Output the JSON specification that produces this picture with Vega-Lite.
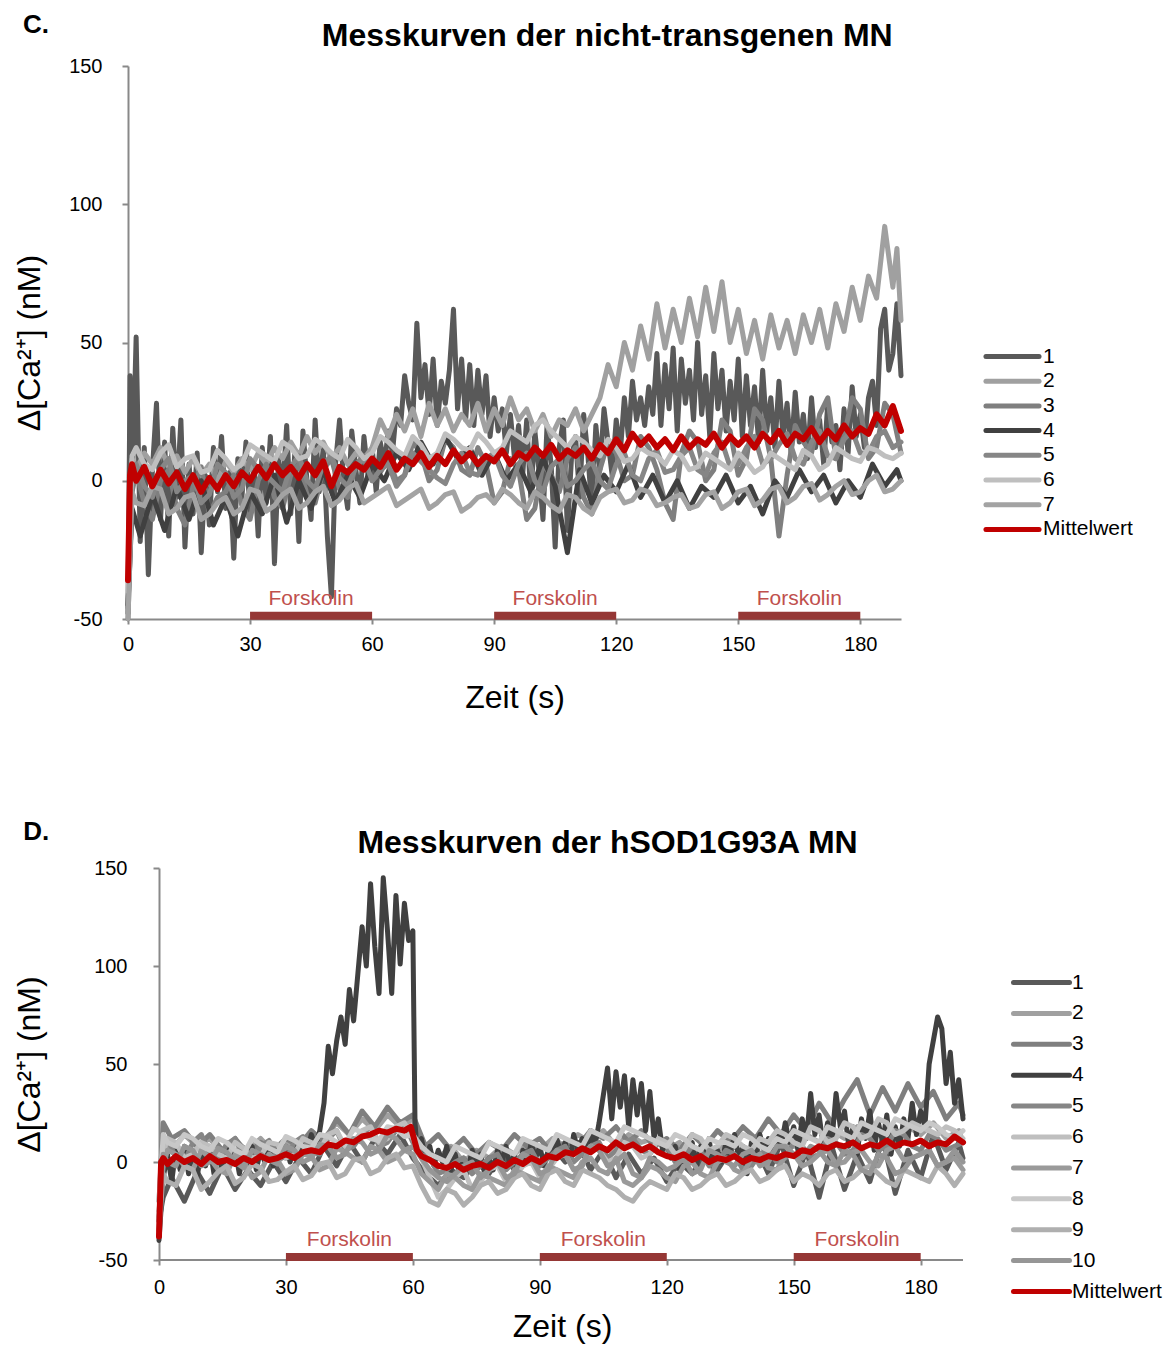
{
"$schema": "https://vega.github.io/schema/vega-lite/v6.json",
"background": "white",
"padding": {"left": 13, "top": 11, "right": 5, "bottom": 5},
"spacing": 105,
"config": {
  "view": {"stroke": null},
  "font": "Liberation Sans",
  "axis": {"grid": false, "domainColor": "#898989", "domainWidth": 2, "tickColor": "#898989", "tickWidth": 2, "labelFont": "Liberation Sans", "labelFontSize": 20, "labelColor": "#000000", "titleFont": "Liberation Sans", "titleFontSize": 32, "titleFontWeight": "normal", "titleColor": "#000000", "labelFlush": false, "labelExpr": "'' + datum.value"},
  "legend": {"labelFont": "Liberation Sans", "labelFontSize": 21, "labelColor": "#000000", "symbolType": "M-4,0H4", "symbolStrokeWidth": 5, "symbolOpacity": 1, "padding": 0, "title": null}
},
"resolve": {"scale": {"color": "independent"}},
"datasets": {
"forsk": [{"a": 30, "b": 60, "m": 45, "lab": "Forskolin"}, {"a": 90, "b": 120, "m": 105, "lab": "Forskolin"}, {"a": 150, "b": 180, "m": 165, "lab": "Forskolin"}],
"c": [
{"s":"1","t":0,"v":-48},{"s":"1","t":0.5,"v":38},{"s":"1","t":1,"v":-5},{"s":"1","t":2,"v":52},{"s":"1","t":3,"v":-22},{"s":"1","t":4,"v":12},{"s":"1","t":5,"v":-34},{"s":"1","t":6,"v":4},{"s":"1","t":7,"v":28},{"s":"1","t":8,"v":-14},{"s":"1","t":9,"v":14},{"s":"1","t":10,"v":-20},{"s":"1","t":11,"v":19},{"s":"1","t":12,"v":-6},{"s":"1","t":13,"v":22},{"s":"1","t":14,"v":-24},{"s":"1","t":15,"v":6},{"s":"1","t":16,"v":-12},{"s":"1","t":17,"v":10},{"s":"1","t":18,"v":-26},{"s":"1","t":19,"v":2},{"s":"1","t":20,"v":-16},{"s":"1","t":21,"v":12},{"s":"1","t":22,"v":-4},{"s":"1","t":23,"v":16},{"s":"1","t":24,"v":-10},{"s":"1","t":25,"v":3},{"s":"1","t":26,"v":-28},{"s":"1","t":27,"v":8},{"s":"1","t":28,"v":-6},{"s":"1","t":29,"v":14},{"s":"1","t":30,"v":-12},{"s":"1","t":31,"v":6},{"s":"1","t":32,"v":-20},{"s":"1","t":33,"v":12},{"s":"1","t":34,"v":-8},{"s":"1","t":35,"v":16},{"s":"1","t":36,"v":-30},{"s":"1","t":37,"v":8},{"s":"1","t":38,"v":-4},{"s":"1","t":39,"v":20},{"s":"1","t":40,"v":-12},{"s":"1","t":41,"v":10},{"s":"1","t":42,"v":-22},{"s":"1","t":43,"v":18},{"s":"1","t":44,"v":0},{"s":"1","t":45,"v":-14},{"s":"1","t":46,"v":22},{"s":"1","t":47,"v":-4},{"s":"1","t":48,"v":12},{"s":"1","t":49,"v":-20},{"s":"1","t":50,"v":-42},{"s":"1","t":51,"v":6},{"s":"1","t":52,"v":22},{"s":"1","t":53,"v":0},{"s":"1","t":54,"v":-10},{"s":"1","t":55,"v":18},{"s":"1","t":56,"v":4},{"s":"1","t":57,"v":-8},{"s":"1","t":58,"v":16},{"s":"1","t":59,"v":2},{"s":"1","t":60,"v":12},{"s":"1","t":61,"v":-4},{"s":"1","t":62,"v":14},{"s":"1","t":63,"v":6},{"s":"1","t":64,"v":18},{"s":"1","t":65,"v":10},{"s":"1","t":66,"v":26},{"s":"1","t":67,"v":20},{"s":"1","t":68,"v":38},{"s":"1","t":69,"v":28},{"s":"1","t":70,"v":22},{"s":"1","t":71,"v":57},{"s":"1","t":72,"v":30},{"s":"1","t":73,"v":42},{"s":"1","t":74,"v":24},{"s":"1","t":75,"v":44},{"s":"1","t":76,"v":20},{"s":"1","t":77,"v":36},{"s":"1","t":78,"v":28},{"s":"1","t":79,"v":40},{"s":"1","t":80,"v":62},{"s":"1","t":81,"v":26},{"s":"1","t":82,"v":44},{"s":"1","t":83,"v":22},{"s":"1","t":84,"v":42},{"s":"1","t":85,"v":20},{"s":"1","t":86,"v":40},{"s":"1","t":87,"v":24},{"s":"1","t":88,"v":38},{"s":"1","t":89,"v":16},{"s":"1","t":90,"v":30},{"s":"1","t":91,"v":18},{"s":"1","t":92,"v":26},{"s":"1","t":93,"v":10},{"s":"1","t":94,"v":24},{"s":"1","t":95,"v":8},{"s":"1","t":96,"v":20},{"s":"1","t":97,"v":2},{"s":"1","t":98,"v":22},{"s":"1","t":99,"v":-6},{"s":"1","t":100,"v":18},{"s":"1","t":101,"v":4},{"s":"1","t":102,"v":-14},{"s":"1","t":103,"v":20},{"s":"1","t":104,"v":6},{"s":"1","t":105,"v":-24},{"s":"1","t":106,"v":12},{"s":"1","t":107,"v":22},{"s":"1","t":108,"v":-18},{"s":"1","t":109,"v":8},{"s":"1","t":110,"v":16},{"s":"1","t":111,"v":-6},{"s":"1","t":112,"v":24},{"s":"1","t":113,"v":10},{"s":"1","t":114,"v":-10},{"s":"1","t":115,"v":20},{"s":"1","t":116,"v":4},{"s":"1","t":117,"v":26},{"s":"1","t":118,"v":14},{"s":"1","t":119,"v":2},{"s":"1","t":120,"v":22},{"s":"1","t":121,"v":10},{"s":"1","t":122,"v":30},{"s":"1","t":123,"v":16},{"s":"1","t":124,"v":36},{"s":"1","t":125,"v":22},{"s":"1","t":126,"v":30},{"s":"1","t":127,"v":20},{"s":"1","t":128,"v":34},{"s":"1","t":129,"v":24},{"s":"1","t":130,"v":46},{"s":"1","t":131,"v":20},{"s":"1","t":132,"v":42},{"s":"1","t":133,"v":26},{"s":"1","t":134,"v":48},{"s":"1","t":135,"v":18},{"s":"1","t":136,"v":44},{"s":"1","t":137,"v":28},{"s":"1","t":138,"v":40},{"s":"1","t":139,"v":22},{"s":"1","t":140,"v":50},{"s":"1","t":141,"v":24},{"s":"1","t":142,"v":38},{"s":"1","t":143,"v":16},{"s":"1","t":144,"v":46},{"s":"1","t":145,"v":26},{"s":"1","t":146,"v":40},{"s":"1","t":147,"v":18},{"s":"1","t":148,"v":36},{"s":"1","t":149,"v":22},{"s":"1","t":150,"v":44},{"s":"1","t":151,"v":16},{"s":"1","t":152,"v":38},{"s":"1","t":153,"v":20},{"s":"1","t":154,"v":34},{"s":"1","t":155,"v":14},{"s":"1","t":156,"v":40},{"s":"1","t":157,"v":18},{"s":"1","t":158,"v":30},{"s":"1","t":159,"v":12},{"s":"1","t":160,"v":36},{"s":"1","t":161,"v":16},{"s":"1","t":162,"v":28},{"s":"1","t":163,"v":10},{"s":"1","t":164,"v":32},{"s":"1","t":165,"v":14},{"s":"1","t":166,"v":24},{"s":"1","t":167,"v":8},{"s":"1","t":168,"v":30},{"s":"1","t":169,"v":12},{"s":"1","t":170,"v":22},{"s":"1","t":171,"v":6},{"s":"1","t":172,"v":28},{"s":"1","t":173,"v":14},{"s":"1","t":174,"v":20},{"s":"1","t":175,"v":4},{"s":"1","t":176,"v":26},{"s":"1","t":177,"v":10},{"s":"1","t":178,"v":34},{"s":"1","t":179,"v":16},{"s":"1","t":180,"v":24},{"s":"1","t":181,"v":12},{"s":"1","t":182,"v":30},{"s":"1","t":183,"v":36},{"s":"1","t":184,"v":20},{"s":"1","t":185,"v":55},{"s":"1","t":186,"v":62},{"s":"1","t":187,"v":40},{"s":"1","t":188,"v":46},{"s":"1","t":189,"v":64},{"s":"1","t":190,"v":38},
{"s":"2","t":0,"v":-45},{"s":"2","t":1,"v":8},{"s":"2","t":2,"v":4},{"s":"2","t":4,"v":10},{"s":"2","t":6,"v":6},{"s":"2","t":8,"v":12},{"s":"2","t":10,"v":5},{"s":"2","t":12,"v":9},{"s":"2","t":14,"v":3},{"s":"2","t":16,"v":8},{"s":"2","t":18,"v":2},{"s":"2","t":20,"v":6},{"s":"2","t":22,"v":0},{"s":"2","t":24,"v":7},{"s":"2","t":26,"v":3},{"s":"2","t":28,"v":8},{"s":"2","t":30,"v":4},{"s":"2","t":32,"v":10},{"s":"2","t":34,"v":6},{"s":"2","t":36,"v":12},{"s":"2","t":38,"v":8},{"s":"2","t":40,"v":14},{"s":"2","t":42,"v":9},{"s":"2","t":44,"v":16},{"s":"2","t":46,"v":10},{"s":"2","t":48,"v":14},{"s":"2","t":50,"v":8},{"s":"2","t":52,"v":12},{"s":"2","t":54,"v":6},{"s":"2","t":56,"v":10},{"s":"2","t":58,"v":8},{"s":"2","t":60,"v":12},{"s":"2","t":62,"v":22},{"s":"2","t":64,"v":16},{"s":"2","t":66,"v":24},{"s":"2","t":68,"v":18},{"s":"2","t":70,"v":26},{"s":"2","t":72,"v":16},{"s":"2","t":74,"v":28},{"s":"2","t":76,"v":20},{"s":"2","t":78,"v":26},{"s":"2","t":80,"v":18},{"s":"2","t":82,"v":24},{"s":"2","t":84,"v":20},{"s":"2","t":86,"v":28},{"s":"2","t":88,"v":18},{"s":"2","t":90,"v":26},{"s":"2","t":92,"v":20},{"s":"2","t":94,"v":30},{"s":"2","t":96,"v":22},{"s":"2","t":98,"v":26},{"s":"2","t":100,"v":18},{"s":"2","t":102,"v":24},{"s":"2","t":104,"v":16},{"s":"2","t":106,"v":22},{"s":"2","t":108,"v":20},{"s":"2","t":110,"v":26},{"s":"2","t":112,"v":18},{"s":"2","t":114,"v":24},{"s":"2","t":116,"v":30},{"s":"2","t":118,"v":42},{"s":"2","t":120,"v":34},{"s":"2","t":122,"v":50},{"s":"2","t":124,"v":40},{"s":"2","t":126,"v":56},{"s":"2","t":128,"v":44},{"s":"2","t":130,"v":64},{"s":"2","t":132,"v":48},{"s":"2","t":134,"v":62},{"s":"2","t":136,"v":50},{"s":"2","t":138,"v":66},{"s":"2","t":140,"v":52},{"s":"2","t":142,"v":70},{"s":"2","t":144,"v":54},{"s":"2","t":146,"v":72},{"s":"2","t":148,"v":50},{"s":"2","t":150,"v":62},{"s":"2","t":152,"v":46},{"s":"2","t":154,"v":58},{"s":"2","t":156,"v":44},{"s":"2","t":158,"v":60},{"s":"2","t":160,"v":48},{"s":"2","t":162,"v":58},{"s":"2","t":164,"v":46},{"s":"2","t":166,"v":60},{"s":"2","t":168,"v":50},{"s":"2","t":170,"v":62},{"s":"2","t":172,"v":48},{"s":"2","t":174,"v":64},{"s":"2","t":176,"v":54},{"s":"2","t":178,"v":70},{"s":"2","t":180,"v":58},{"s":"2","t":182,"v":74},{"s":"2","t":184,"v":66},{"s":"2","t":186,"v":92},{"s":"2","t":188,"v":70},{"s":"2","t":189,"v":84},{"s":"2","t":190,"v":58},
{"s":"3","t":0,"v":-50},{"s":"3","t":1,"v":-4},{"s":"3","t":4,"v":-8},{"s":"3","t":8,"v":0},{"s":"3","t":12,"v":-10},{"s":"3","t":16,"v":-2},{"s":"3","t":20,"v":-12},{"s":"3","t":24,"v":-4},{"s":"3","t":28,"v":-9},{"s":"3","t":32,"v":0},{"s":"3","t":36,"v":-6},{"s":"3","t":40,"v":2},{"s":"3","t":44,"v":-5},{"s":"3","t":48,"v":4},{"s":"3","t":52,"v":-3},{"s":"3","t":56,"v":6},{"s":"3","t":60,"v":0},{"s":"3","t":64,"v":8},{"s":"3","t":68,"v":2},{"s":"3","t":72,"v":10},{"s":"3","t":76,"v":4},{"s":"3","t":80,"v":12},{"s":"3","t":84,"v":2},{"s":"3","t":88,"v":6},{"s":"3","t":92,"v":-4},{"s":"3","t":96,"v":4},{"s":"3","t":100,"v":-10},{"s":"3","t":104,"v":2},{"s":"3","t":108,"v":8},{"s":"3","t":112,"v":-6},{"s":"3","t":116,"v":4},{"s":"3","t":120,"v":10},{"s":"3","t":124,"v":2},{"s":"3","t":128,"v":12},{"s":"3","t":132,"v":-8},{"s":"3","t":136,"v":10},{"s":"3","t":140,"v":14},{"s":"3","t":144,"v":4},{"s":"3","t":148,"v":18},{"s":"3","t":152,"v":8},{"s":"3","t":156,"v":22},{"s":"3","t":160,"v":-20},{"s":"3","t":164,"v":20},{"s":"3","t":168,"v":10},{"s":"3","t":172,"v":30},{"s":"3","t":176,"v":16},{"s":"3","t":180,"v":26},{"s":"3","t":184,"v":12},{"s":"3","t":188,"v":24},{"s":"3","t":190,"v":10},
{"s":"4","t":0,"v":-45},{"s":"4","t":1,"v":-10},{"s":"4","t":3,"v":-20},{"s":"4","t":6,"v":-5},{"s":"4","t":9,"v":-18},{"s":"4","t":12,"v":-2},{"s":"4","t":15,"v":-14},{"s":"4","t":18,"v":0},{"s":"4","t":21,"v":-16},{"s":"4","t":24,"v":-6},{"s":"4","t":27,"v":-20},{"s":"4","t":30,"v":-4},{"s":"4","t":33,"v":-12},{"s":"4","t":36,"v":2},{"s":"4","t":39,"v":-15},{"s":"4","t":42,"v":0},{"s":"4","t":45,"v":-10},{"s":"4","t":48,"v":4},{"s":"4","t":51,"v":-8},{"s":"4","t":54,"v":2},{"s":"4","t":57,"v":-6},{"s":"4","t":60,"v":6},{"s":"4","t":63,"v":0},{"s":"4","t":66,"v":10},{"s":"4","t":69,"v":4},{"s":"4","t":72,"v":14},{"s":"4","t":75,"v":6},{"s":"4","t":78,"v":16},{"s":"4","t":81,"v":8},{"s":"4","t":84,"v":12},{"s":"4","t":87,"v":2},{"s":"4","t":90,"v":10},{"s":"4","t":93,"v":0},{"s":"4","t":96,"v":6},{"s":"4","t":99,"v":-4},{"s":"4","t":102,"v":8},{"s":"4","t":105,"v":-2},{"s":"4","t":108,"v":-26},{"s":"4","t":111,"v":4},{"s":"4","t":114,"v":-8},{"s":"4","t":117,"v":2},{"s":"4","t":120,"v":-4},{"s":"4","t":123,"v":6},{"s":"4","t":126,"v":-6},{"s":"4","t":129,"v":2},{"s":"4","t":132,"v":-8},{"s":"4","t":135,"v":0},{"s":"4","t":138,"v":-10},{"s":"4","t":141,"v":-2},{"s":"4","t":144,"v":-6},{"s":"4","t":147,"v":2},{"s":"4","t":150,"v":-8},{"s":"4","t":153,"v":-2},{"s":"4","t":156,"v":-12},{"s":"4","t":159,"v":0},{"s":"4","t":162,"v":-6},{"s":"4","t":165,"v":4},{"s":"4","t":168,"v":-4},{"s":"4","t":171,"v":2},{"s":"4","t":174,"v":-8},{"s":"4","t":177,"v":0},{"s":"4","t":180,"v":-6},{"s":"4","t":183,"v":6},{"s":"4","t":186,"v":-2},{"s":"4","t":189,"v":4},{"s":"4","t":190,"v":0},
{"s":"5","t":0,"v":-46},{"s":"5","t":1,"v":2},{"s":"5","t":4,"v":-2},{"s":"5","t":8,"v":4},{"s":"5","t":12,"v":-4},{"s":"5","t":16,"v":2},{"s":"5","t":20,"v":-5},{"s":"5","t":24,"v":3},{"s":"5","t":28,"v":-3},{"s":"5","t":32,"v":4},{"s":"5","t":36,"v":-1},{"s":"5","t":40,"v":5},{"s":"5","t":44,"v":0},{"s":"5","t":48,"v":6},{"s":"5","t":52,"v":1},{"s":"5","t":56,"v":5},{"s":"5","t":60,"v":0},{"s":"5","t":64,"v":6},{"s":"5","t":68,"v":2},{"s":"5","t":72,"v":7},{"s":"5","t":76,"v":1},{"s":"5","t":80,"v":6},{"s":"5","t":84,"v":3},{"s":"5","t":88,"v":8},{"s":"5","t":92,"v":2},{"s":"5","t":96,"v":6},{"s":"5","t":100,"v":0},{"s":"5","t":104,"v":5},{"s":"5","t":108,"v":-2},{"s":"5","t":112,"v":4},{"s":"5","t":116,"v":0},{"s":"5","t":120,"v":6},{"s":"5","t":124,"v":2},{"s":"5","t":128,"v":8},{"s":"5","t":132,"v":3},{"s":"5","t":136,"v":9},{"s":"5","t":140,"v":4},{"s":"5","t":144,"v":10},{"s":"5","t":148,"v":5},{"s":"5","t":152,"v":12},{"s":"5","t":156,"v":6},{"s":"5","t":160,"v":13},{"s":"5","t":164,"v":8},{"s":"5","t":168,"v":14},{"s":"5","t":172,"v":9},{"s":"5","t":176,"v":15},{"s":"5","t":180,"v":10},{"s":"5","t":184,"v":16},{"s":"5","t":188,"v":12},{"s":"5","t":190,"v":14},
{"s":"6","t":0,"v":-40},{"s":"6","t":1,"v":9},{"s":"6","t":4,"v":6},{"s":"6","t":8,"v":10},{"s":"6","t":12,"v":5},{"s":"6","t":16,"v":9},{"s":"6","t":20,"v":4},{"s":"6","t":24,"v":8},{"s":"6","t":28,"v":6},{"s":"6","t":32,"v":11},{"s":"6","t":36,"v":7},{"s":"6","t":40,"v":12},{"s":"6","t":44,"v":9},{"s":"6","t":48,"v":13},{"s":"6","t":52,"v":8},{"s":"6","t":56,"v":12},{"s":"6","t":60,"v":10},{"s":"6","t":64,"v":14},{"s":"6","t":68,"v":9},{"s":"6","t":72,"v":13},{"s":"6","t":76,"v":10},{"s":"6","t":80,"v":15},{"s":"6","t":84,"v":11},{"s":"6","t":88,"v":14},{"s":"6","t":92,"v":12},{"s":"6","t":96,"v":16},{"s":"6","t":100,"v":20},{"s":"6","t":104,"v":18},{"s":"6","t":108,"v":12},{"s":"6","t":112,"v":14},{"s":"6","t":116,"v":9},{"s":"6","t":120,"v":12},{"s":"6","t":124,"v":8},{"s":"6","t":128,"v":10},{"s":"6","t":132,"v":6},{"s":"6","t":136,"v":9},{"s":"6","t":140,"v":5},{"s":"6","t":144,"v":8},{"s":"6","t":148,"v":4},{"s":"6","t":152,"v":7},{"s":"6","t":156,"v":5},{"s":"6","t":160,"v":8},{"s":"6","t":164,"v":4},{"s":"6","t":168,"v":9},{"s":"6","t":172,"v":6},{"s":"6","t":176,"v":10},{"s":"6","t":180,"v":7},{"s":"6","t":184,"v":11},{"s":"6","t":188,"v":8},{"s":"6","t":190,"v":10},
{"s":"7","t":0,"v":-50},{"s":"7","t":1,"v":-4},{"s":"7","t":4,"v":-9},{"s":"7","t":8,"v":-3},{"s":"7","t":12,"v":-10},{"s":"7","t":16,"v":-5},{"s":"7","t":20,"v":-12},{"s":"7","t":24,"v":-6},{"s":"7","t":28,"v":-10},{"s":"7","t":32,"v":-4},{"s":"7","t":36,"v":-9},{"s":"7","t":40,"v":-3},{"s":"7","t":44,"v":-8},{"s":"7","t":48,"v":-2},{"s":"7","t":52,"v":-7},{"s":"7","t":56,"v":-1},{"s":"7","t":60,"v":-6},{"s":"7","t":64,"v":-2},{"s":"7","t":68,"v":-7},{"s":"7","t":72,"v":-3},{"s":"7","t":76,"v":-8},{"s":"7","t":80,"v":-4},{"s":"7","t":84,"v":-9},{"s":"7","t":88,"v":-5},{"s":"7","t":92,"v":-3},{"s":"7","t":96,"v":-8},{"s":"7","t":100,"v":-4},{"s":"7","t":104,"v":-9},{"s":"7","t":108,"v":-5},{"s":"7","t":112,"v":-10},{"s":"7","t":116,"v":-6},{"s":"7","t":120,"v":-3},{"s":"7","t":124,"v":-7},{"s":"7","t":128,"v":-4},{"s":"7","t":132,"v":-8},{"s":"7","t":136,"v":-5},{"s":"7","t":140,"v":-9},{"s":"7","t":144,"v":-4},{"s":"7","t":148,"v":-8},{"s":"7","t":152,"v":-3},{"s":"7","t":156,"v":-7},{"s":"7","t":160,"v":-2},{"s":"7","t":164,"v":-6},{"s":"7","t":168,"v":-1},{"s":"7","t":172,"v":-5},{"s":"7","t":176,"v":0},{"s":"7","t":180,"v":-4},{"s":"7","t":184,"v":2},{"s":"7","t":188,"v":-3},{"s":"7","t":190,"v":0},
{"s":"3","t":2,"v":3},{"s":"3","t":6,"v":-14},{"s":"3","t":10,"v":4},{"s":"3","t":14,"v":-16},{"s":"3","t":18,"v":5},{"s":"3","t":22,"v":-6},{"s":"3","t":26,"v":2},{"s":"3","t":30,"v":-14},{"s":"3","t":34,"v":6},{"s":"3","t":38,"v":-10},{"s":"3","t":42,"v":6},{"s":"3","t":46,"v":-8},{"s":"3","t":50,"v":8},{"s":"3","t":54,"v":-6},{"s":"3","t":58,"v":9},{"s":"3","t":62,"v":3},{"s":"3","t":66,"v":0},{"s":"3","t":70,"v":14},{"s":"3","t":74,"v":0},{"s":"3","t":78,"v":15},{"s":"3","t":82,"v":4},{"s":"3","t":86,"v":12},{"s":"3","t":90,"v":-8},{"s":"3","t":94,"v":8},{"s":"3","t":98,"v":-14},{"s":"3","t":102,"v":6},{"s":"3","t":106,"v":-4},{"s":"3","t":110,"v":12},{"s":"3","t":114,"v":-12},{"s":"3","t":118,"v":14},{"s":"3","t":122,"v":0},{"s":"3","t":126,"v":16},{"s":"3","t":130,"v":4},{"s":"3","t":134,"v":-14},{"s":"3","t":138,"v":18},{"s":"3","t":142,"v":0},{"s":"3","t":146,"v":22},{"s":"3","t":150,"v":2},{"s":"3","t":154,"v":26},{"s":"3","t":158,"v":8},{"s":"3","t":162,"v":2},{"s":"3","t":166,"v":14},{"s":"3","t":170,"v":24},{"s":"3","t":174,"v":8},{"s":"3","t":178,"v":30},{"s":"3","t":182,"v":8},{"s":"3","t":186,"v":28},
{"s":"5","t":2,"v":6},{"s":"5","t":6,"v":-6},{"s":"5","t":10,"v":8},{"s":"5","t":14,"v":0},{"s":"5","t":18,"v":-8},{"s":"5","t":22,"v":6},{"s":"5","t":26,"v":-6},{"s":"5","t":30,"v":8},{"s":"5","t":34,"v":2},{"s":"5","t":38,"v":-4},{"s":"5","t":42,"v":9},{"s":"5","t":46,"v":-3},{"s":"5","t":50,"v":9},{"s":"5","t":54,"v":-2},{"s":"5","t":58,"v":8},{"s":"5","t":62,"v":4},{"s":"5","t":66,"v":-2},{"s":"5","t":70,"v":10},{"s":"5","t":74,"v":4},{"s":"5","t":78,"v":-1},{"s":"5","t":82,"v":10},{"s":"5","t":86,"v":2},{"s":"5","t":90,"v":10},{"s":"5","t":94,"v":-2},{"s":"5","t":98,"v":10},{"s":"5","t":102,"v":-4},{"s":"5","t":106,"v":8},{"s":"5","t":110,"v":0},{"s":"5","t":114,"v":7},{"s":"5","t":118,"v":-3},{"s":"5","t":122,"v":10},{"s":"5","t":126,"v":0},{"s":"5","t":130,"v":11},{"s":"5","t":134,"v":4},{"s":"5","t":138,"v":12},{"s":"5","t":142,"v":2},{"s":"5","t":146,"v":14},{"s":"5","t":150,"v":6},{"s":"5","t":154,"v":16},{"s":"5","t":158,"v":8},{"s":"5","t":162,"v":17},{"s":"5","t":166,"v":6},{"s":"5","t":170,"v":18},{"s":"5","t":174,"v":8},{"s":"5","t":178,"v":18},{"s":"5","t":182,"v":10},{"s":"5","t":186,"v":18},
{"s":"6","t":2,"v":12},{"s":"6","t":6,"v":4},{"s":"6","t":10,"v":13},{"s":"6","t":14,"v":8},{"s":"6","t":18,"v":3},{"s":"6","t":22,"v":11},{"s":"6","t":26,"v":4},{"s":"6","t":30,"v":13},{"s":"6","t":34,"v":9},{"s":"6","t":38,"v":14},{"s":"6","t":42,"v":8},{"s":"6","t":46,"v":15},{"s":"6","t":50,"v":10},{"s":"6","t":54,"v":15},{"s":"6","t":58,"v":8},{"s":"6","t":62,"v":16},{"s":"6","t":66,"v":11},{"s":"6","t":70,"v":16},{"s":"6","t":74,"v":8},{"s":"6","t":78,"v":17},{"s":"6","t":82,"v":12},{"s":"6","t":86,"v":17},{"s":"6","t":90,"v":10},{"s":"6","t":94,"v":18},{"s":"6","t":98,"v":14},{"s":"6","t":102,"v":22},{"s":"6","t":106,"v":15},{"s":"6","t":110,"v":16},{"s":"6","t":114,"v":11},{"s":"6","t":118,"v":15},{"s":"6","t":122,"v":7},{"s":"6","t":126,"v":12},{"s":"6","t":130,"v":9},{"s":"6","t":134,"v":11},{"s":"6","t":138,"v":4},{"s":"6","t":142,"v":10},{"s":"6","t":146,"v":6},{"s":"6","t":150,"v":10},{"s":"6","t":154,"v":3},{"s":"6","t":158,"v":10},{"s":"6","t":162,"v":6},{"s":"6","t":166,"v":11},{"s":"6","t":170,"v":4},{"s":"6","t":174,"v":12},{"s":"6","t":178,"v":8},{"s":"6","t":182,"v":12},{"s":"6","t":186,"v":9},
{"s":"7","t":2,"v":-8},{"s":"7","t":6,"v":-2},{"s":"7","t":10,"v":-12},{"s":"7","t":14,"v":-6},{"s":"7","t":18,"v":-14},{"s":"7","t":22,"v":-8},{"s":"7","t":26,"v":-12},{"s":"7","t":30,"v":-3},{"s":"7","t":34,"v":-11},{"s":"7","t":38,"v":-5},{"s":"7","t":42,"v":-10},{"s":"7","t":46,"v":-4},{"s":"7","t":50,"v":-9},{"s":"7","t":54,"v":-3},{"s":"7","t":58,"v":-8},{"s":"7","t":62,"v":-4},{"s":"7","t":66,"v":-9},{"s":"7","t":70,"v":-5},{"s":"7","t":74,"v":-10},{"s":"7","t":78,"v":-5},{"s":"7","t":82,"v":-11},{"s":"7","t":86,"v":-6},{"s":"7","t":90,"v":-8},{"s":"7","t":94,"v":-5},{"s":"7","t":98,"v":-10},{"s":"7","t":102,"v":-6},{"s":"7","t":106,"v":-11},{"s":"7","t":110,"v":-6},{"s":"7","t":114,"v":-12},{"s":"7","t":118,"v":-4},{"s":"7","t":122,"v":-8},{"s":"7","t":126,"v":-3},{"s":"7","t":130,"v":-9},{"s":"7","t":134,"v":-6},{"s":"7","t":138,"v":-10},{"s":"7","t":142,"v":-5},{"s":"7","t":146,"v":-10},{"s":"7","t":150,"v":-4},{"s":"7","t":154,"v":-9},{"s":"7","t":158,"v":-3},{"s":"7","t":162,"v":-8},{"s":"7","t":166,"v":-2},{"s":"7","t":170,"v":-7},{"s":"7","t":174,"v":-2},{"s":"7","t":178,"v":-5},{"s":"7","t":182,"v":0},{"s":"7","t":186,"v":-4}
],
"cm": [
{"t":0,"v":-36},{"t":0.5,"v":2},{"t":1,"v":6},{"t":2,"v":0},{"t":4,"v":5},{"t":6,"v":-2},{"t":8,"v":4},{"t":10,"v":-1},{"t":12,"v":3},{"t":14,"v":-3},{"t":16,"v":2},{"t":18,"v":-4},{"t":20,"v":1},{"t":22,"v":-3},{"t":24,"v":2},{"t":26,"v":-2},{"t":28,"v":3},{"t":30,"v":0},{"t":32,"v":5},{"t":34,"v":1},{"t":36,"v":6},{"t":38,"v":2},{"t":40,"v":5},{"t":42,"v":1},{"t":44,"v":6},{"t":46,"v":2},{"t":48,"v":7},{"t":50,"v":-2},{"t":52,"v":5},{"t":54,"v":3},{"t":56,"v":6},{"t":58,"v":4},{"t":60,"v":8},{"t":62,"v":5},{"t":64,"v":10},{"t":66,"v":4},{"t":68,"v":8},{"t":70,"v":6},{"t":72,"v":10},{"t":74,"v":5},{"t":76,"v":9},{"t":78,"v":6},{"t":80,"v":11},{"t":82,"v":7},{"t":84,"v":10},{"t":86,"v":6},{"t":88,"v":9},{"t":90,"v":7},{"t":92,"v":11},{"t":94,"v":6},{"t":96,"v":10},{"t":98,"v":8},{"t":100,"v":12},{"t":102,"v":9},{"t":104,"v":13},{"t":106,"v":8},{"t":108,"v":11},{"t":110,"v":9},{"t":112,"v":12},{"t":114,"v":8},{"t":116,"v":13},{"t":118,"v":10},{"t":120,"v":15},{"t":122,"v":11},{"t":124,"v":17},{"t":126,"v":13},{"t":128,"v":16},{"t":130,"v":12},{"t":132,"v":15},{"t":134,"v":11},{"t":136,"v":16},{"t":138,"v":12},{"t":140,"v":15},{"t":142,"v":13},{"t":144,"v":17},{"t":146,"v":12},{"t":148,"v":16},{"t":150,"v":13},{"t":152,"v":16},{"t":154,"v":12},{"t":156,"v":17},{"t":158,"v":14},{"t":160,"v":18},{"t":162,"v":13},{"t":164,"v":17},{"t":166,"v":15},{"t":168,"v":19},{"t":170,"v":14},{"t":172,"v":18},{"t":174,"v":15},{"t":176,"v":20},{"t":178,"v":16},{"t":180,"v":19},{"t":182,"v":17},{"t":184,"v":24},{"t":186,"v":20},{"t":188,"v":27},{"t":190,"v":18}
],
"d": [
{"s":"1","t":0,"v":-30},{"s":"1","t":1,"v":-18},{"s":"1","t":3,"v":-8},{"s":"1","t":6,"v":-20},{"s":"1","t":9,"v":-5},{"s":"1","t":12,"v":-16},{"s":"1","t":15,"v":-2},{"s":"1","t":18,"v":-14},{"s":"1","t":21,"v":-4},{"s":"1","t":24,"v":-12},{"s":"1","t":27,"v":0},{"s":"1","t":30,"v":-10},{"s":"1","t":33,"v":2},{"s":"1","t":36,"v":-6},{"s":"1","t":39,"v":8},{"s":"1","t":42,"v":-2},{"s":"1","t":45,"v":10},{"s":"1","t":48,"v":0},{"s":"1","t":51,"v":12},{"s":"1","t":54,"v":4},{"s":"1","t":57,"v":14},{"s":"1","t":60,"v":2},{"s":"1","t":63,"v":-6},{"s":"1","t":66,"v":-12},{"s":"1","t":69,"v":-4},{"s":"1","t":72,"v":-8},{"s":"1","t":75,"v":0},{"s":"1","t":78,"v":-6},{"s":"1","t":81,"v":4},{"s":"1","t":84,"v":-4},{"s":"1","t":87,"v":6},{"s":"1","t":90,"v":-2},{"s":"1","t":93,"v":8},{"s":"1","t":96,"v":0},{"s":"1","t":99,"v":10},{"s":"1","t":102,"v":-4},{"s":"1","t":105,"v":6},{"s":"1","t":108,"v":-8},{"s":"1","t":111,"v":4},{"s":"1","t":114,"v":-6},{"s":"1","t":117,"v":2},{"s":"1","t":120,"v":-10},{"s":"1","t":123,"v":0},{"s":"1","t":126,"v":-6},{"s":"1","t":129,"v":4},{"s":"1","t":132,"v":-4},{"s":"1","t":135,"v":6},{"s":"1","t":138,"v":-2},{"s":"1","t":141,"v":8},{"s":"1","t":144,"v":-6},{"s":"1","t":147,"v":10},{"s":"1","t":150,"v":-12},{"s":"1","t":153,"v":6},{"s":"1","t":156,"v":-18},{"s":"1","t":159,"v":8},{"s":"1","t":162,"v":-14},{"s":"1","t":165,"v":4},{"s":"1","t":168,"v":-10},{"s":"1","t":171,"v":12},{"s":"1","t":174,"v":-16},{"s":"1","t":177,"v":6},{"s":"1","t":180,"v":-8},{"s":"1","t":183,"v":14},{"s":"1","t":186,"v":-4},{"s":"1","t":189,"v":10},{"s":"1","t":190,"v":2},
{"s":"2","t":0,"v":-35},{"s":"2","t":1,"v":12},{"s":"2","t":3,"v":6},{"s":"2","t":6,"v":14},{"s":"2","t":9,"v":8},{"s":"2","t":12,"v":12},{"s":"2","t":15,"v":4},{"s":"2","t":18,"v":10},{"s":"2","t":21,"v":6},{"s":"2","t":24,"v":12},{"s":"2","t":27,"v":5},{"s":"2","t":30,"v":10},{"s":"2","t":33,"v":8},{"s":"2","t":36,"v":14},{"s":"2","t":39,"v":12},{"s":"2","t":42,"v":20},{"s":"2","t":45,"v":14},{"s":"2","t":48,"v":22},{"s":"2","t":51,"v":16},{"s":"2","t":54,"v":24},{"s":"2","t":57,"v":18},{"s":"2","t":60,"v":22},{"s":"2","t":63,"v":6},{"s":"2","t":66,"v":2},{"s":"2","t":69,"v":8},{"s":"2","t":72,"v":0},{"s":"2","t":75,"v":6},{"s":"2","t":78,"v":2},{"s":"2","t":81,"v":8},{"s":"2","t":84,"v":4},{"s":"2","t":87,"v":10},{"s":"2","t":90,"v":6},{"s":"2","t":93,"v":12},{"s":"2","t":96,"v":8},{"s":"2","t":99,"v":14},{"s":"2","t":102,"v":10},{"s":"2","t":105,"v":16},{"s":"2","t":108,"v":8},{"s":"2","t":111,"v":14},{"s":"2","t":114,"v":10},{"s":"2","t":117,"v":12},{"s":"2","t":120,"v":6},{"s":"2","t":123,"v":10},{"s":"2","t":126,"v":4},{"s":"2","t":129,"v":8},{"s":"2","t":132,"v":6},{"s":"2","t":135,"v":10},{"s":"2","t":138,"v":4},{"s":"2","t":141,"v":9},{"s":"2","t":144,"v":6},{"s":"2","t":147,"v":12},{"s":"2","t":150,"v":8},{"s":"2","t":153,"v":14},{"s":"2","t":156,"v":10},{"s":"2","t":159,"v":16},{"s":"2","t":162,"v":12},{"s":"2","t":165,"v":18},{"s":"2","t":168,"v":12},{"s":"2","t":171,"v":16},{"s":"2","t":174,"v":10},{"s":"2","t":177,"v":18},{"s":"2","t":180,"v":14},{"s":"2","t":183,"v":20},{"s":"2","t":186,"v":12},{"s":"2","t":189,"v":16},{"s":"2","t":190,"v":10},
{"s":"3","t":0,"v":-20},{"s":"3","t":1,"v":20},{"s":"3","t":3,"v":12},{"s":"3","t":6,"v":16},{"s":"3","t":9,"v":8},{"s":"3","t":12,"v":14},{"s":"3","t":15,"v":6},{"s":"3","t":18,"v":12},{"s":"3","t":21,"v":4},{"s":"3","t":24,"v":10},{"s":"3","t":27,"v":6},{"s":"3","t":30,"v":12},{"s":"3","t":33,"v":8},{"s":"3","t":36,"v":16},{"s":"3","t":39,"v":10},{"s":"3","t":42,"v":22},{"s":"3","t":45,"v":14},{"s":"3","t":48,"v":26},{"s":"3","t":51,"v":18},{"s":"3","t":54,"v":28},{"s":"3","t":57,"v":20},{"s":"3","t":60,"v":24},{"s":"3","t":63,"v":8},{"s":"3","t":66,"v":14},{"s":"3","t":69,"v":6},{"s":"3","t":72,"v":12},{"s":"3","t":75,"v":4},{"s":"3","t":78,"v":10},{"s":"3","t":81,"v":6},{"s":"3","t":84,"v":14},{"s":"3","t":87,"v":8},{"s":"3","t":90,"v":12},{"s":"3","t":93,"v":4},{"s":"3","t":96,"v":10},{"s":"3","t":99,"v":8},{"s":"3","t":102,"v":16},{"s":"3","t":105,"v":12},{"s":"3","t":108,"v":18},{"s":"3","t":111,"v":10},{"s":"3","t":114,"v":16},{"s":"3","t":117,"v":8},{"s":"3","t":120,"v":12},{"s":"3","t":123,"v":6},{"s":"3","t":126,"v":14},{"s":"3","t":129,"v":8},{"s":"3","t":132,"v":16},{"s":"3","t":135,"v":10},{"s":"3","t":138,"v":18},{"s":"3","t":141,"v":12},{"s":"3","t":144,"v":22},{"s":"3","t":147,"v":14},{"s":"3","t":150,"v":24},{"s":"3","t":153,"v":16},{"s":"3","t":156,"v":30},{"s":"3","t":159,"v":20},{"s":"3","t":162,"v":32},{"s":"3","t":165,"v":42},{"s":"3","t":168,"v":24},{"s":"3","t":171,"v":38},{"s":"3","t":174,"v":26},{"s":"3","t":177,"v":40},{"s":"3","t":180,"v":28},{"s":"3","t":183,"v":36},{"s":"3","t":186,"v":22},{"s":"3","t":189,"v":30},{"s":"3","t":190,"v":24},
{"s":"4","t":0,"v":-40},{"s":"4","t":1,"v":-8},{"s":"4","t":2,"v":4},{"s":"4","t":3,"v":-10},{"s":"4","t":4,"v":6},{"s":"4","t":5,"v":-4},{"s":"4","t":6,"v":8},{"s":"4","t":7,"v":-6},{"s":"4","t":8,"v":2},{"s":"4","t":9,"v":-8},{"s":"4","t":10,"v":6},{"s":"4","t":11,"v":-2},{"s":"4","t":12,"v":8},{"s":"4","t":13,"v":-6},{"s":"4","t":14,"v":4},{"s":"4","t":15,"v":-4},{"s":"4","t":16,"v":10},{"s":"4","t":17,"v":0},{"s":"4","t":18,"v":6},{"s":"4","t":19,"v":-6},{"s":"4","t":20,"v":4},{"s":"4","t":21,"v":-2},{"s":"4","t":22,"v":8},{"s":"4","t":23,"v":-4},{"s":"4","t":24,"v":6},{"s":"4","t":25,"v":0},{"s":"4","t":26,"v":10},{"s":"4","t":27,"v":-2},{"s":"4","t":28,"v":6},{"s":"4","t":29,"v":2},{"s":"4","t":30,"v":8},{"s":"4","t":31,"v":0},{"s":"4","t":32,"v":10},{"s":"4","t":33,"v":4},{"s":"4","t":34,"v":12},{"s":"4","t":35,"v":6},{"s":"4","t":36,"v":14},{"s":"4","t":37,"v":8},{"s":"4","t":38,"v":16},{"s":"4","t":39,"v":30},{"s":"4","t":40,"v":59},{"s":"4","t":41,"v":45},{"s":"4","t":42,"v":62},{"s":"4","t":43,"v":74},{"s":"4","t":44,"v":60},{"s":"4","t":45,"v":88},{"s":"4","t":46,"v":72},{"s":"4","t":47,"v":96},{"s":"4","t":48,"v":120},{"s":"4","t":49,"v":100},{"s":"4","t":50,"v":142},{"s":"4","t":51,"v":110},{"s":"4","t":52,"v":86},{"s":"4","t":53,"v":145},{"s":"4","t":54,"v":118},{"s":"4","t":55,"v":86},{"s":"4","t":56,"v":136},{"s":"4","t":57,"v":101},{"s":"4","t":58,"v":132},{"s":"4","t":59,"v":113},{"s":"4","t":60,"v":118},{"s":"4","t":60.5,"v":20},{"s":"4","t":61,"v":6},{"s":"4","t":62,"v":12},{"s":"4","t":63,"v":2},{"s":"4","t":64,"v":8},{"s":"4","t":65,"v":-2},{"s":"4","t":66,"v":6},{"s":"4","t":67,"v":0},{"s":"4","t":68,"v":8},{"s":"4","t":69,"v":-4},{"s":"4","t":70,"v":4},{"s":"4","t":71,"v":-6},{"s":"4","t":72,"v":2},{"s":"4","t":73,"v":-4},{"s":"4","t":74,"v":6},{"s":"4","t":75,"v":-2},{"s":"4","t":76,"v":4},{"s":"4","t":77,"v":-6},{"s":"4","t":78,"v":2},{"s":"4","t":79,"v":-4},{"s":"4","t":80,"v":6},{"s":"4","t":81,"v":0},{"s":"4","t":82,"v":8},{"s":"4","t":83,"v":-2},{"s":"4","t":84,"v":4},{"s":"4","t":85,"v":-6},{"s":"4","t":86,"v":6},{"s":"4","t":87,"v":0},{"s":"4","t":88,"v":10},{"s":"4","t":89,"v":2},{"s":"4","t":90,"v":8},{"s":"4","t":91,"v":-2},{"s":"4","t":92,"v":6},{"s":"4","t":93,"v":2},{"s":"4","t":94,"v":12},{"s":"4","t":95,"v":4},{"s":"4","t":96,"v":10},{"s":"4","t":97,"v":0},{"s":"4","t":98,"v":14},{"s":"4","t":99,"v":6},{"s":"4","t":100,"v":12},{"s":"4","t":101,"v":4},{"s":"4","t":102,"v":16},{"s":"4","t":103,"v":8},{"s":"4","t":104,"v":20},{"s":"4","t":105,"v":34},{"s":"4","t":106,"v":48},{"s":"4","t":107,"v":22},{"s":"4","t":108,"v":46},{"s":"4","t":109,"v":28},{"s":"4","t":110,"v":44},{"s":"4","t":111,"v":18},{"s":"4","t":112,"v":42},{"s":"4","t":113,"v":24},{"s":"4","t":114,"v":40},{"s":"4","t":115,"v":16},{"s":"4","t":116,"v":36},{"s":"4","t":117,"v":12},{"s":"4","t":118,"v":22},{"s":"4","t":119,"v":6},{"s":"4","t":120,"v":10},{"s":"4","t":121,"v":2},{"s":"4","t":122,"v":8},{"s":"4","t":123,"v":-4},{"s":"4","t":124,"v":6},{"s":"4","t":125,"v":0},{"s":"4","t":126,"v":10},{"s":"4","t":127,"v":-2},{"s":"4","t":128,"v":8},{"s":"4","t":129,"v":2},{"s":"4","t":130,"v":12},{"s":"4","t":131,"v":-4},{"s":"4","t":132,"v":6},{"s":"4","t":133,"v":0},{"s":"4","t":134,"v":10},{"s":"4","t":135,"v":4},{"s":"4","t":136,"v":14},{"s":"4","t":137,"v":2},{"s":"4","t":138,"v":8},{"s":"4","t":139,"v":-6},{"s":"4","t":140,"v":10},{"s":"4","t":141,"v":4},{"s":"4","t":142,"v":14},{"s":"4","t":143,"v":6},{"s":"4","t":144,"v":12},{"s":"4","t":145,"v":2},{"s":"4","t":146,"v":16},{"s":"4","t":147,"v":8},{"s":"4","t":148,"v":20},{"s":"4","t":149,"v":10},{"s":"4","t":150,"v":18},{"s":"4","t":151,"v":6},{"s":"4","t":152,"v":22},{"s":"4","t":153,"v":12},{"s":"4","t":154,"v":35},{"s":"4","t":155,"v":14},{"s":"4","t":156,"v":24},{"s":"4","t":157,"v":8},{"s":"4","t":158,"v":20},{"s":"4","t":159,"v":10},{"s":"4","t":160,"v":35},{"s":"4","t":161,"v":18},{"s":"4","t":162,"v":26},{"s":"4","t":163,"v":8},{"s":"4","t":164,"v":18},{"s":"4","t":165,"v":4},{"s":"4","t":166,"v":22},{"s":"4","t":167,"v":12},{"s":"4","t":168,"v":26},{"s":"4","t":169,"v":6},{"s":"4","t":170,"v":20},{"s":"4","t":171,"v":10},{"s":"4","t":172,"v":24},{"s":"4","t":173,"v":4},{"s":"4","t":174,"v":18},{"s":"4","t":175,"v":8},{"s":"4","t":176,"v":22},{"s":"4","t":177,"v":12},{"s":"4","t":178,"v":30},{"s":"4","t":179,"v":14},{"s":"4","t":180,"v":26},{"s":"4","t":181,"v":18},{"s":"4","t":182,"v":50},{"s":"4","t":183,"v":62},{"s":"4","t":184,"v":74},{"s":"4","t":185,"v":68},{"s":"4","t":186,"v":40},{"s":"4","t":187,"v":56},{"s":"4","t":188,"v":30},{"s":"4","t":189,"v":42},{"s":"4","t":190,"v":22},
{"s":"5","t":0,"v":-30},{"s":"5","t":1,"v":8},{"s":"5","t":4,"v":2},{"s":"5","t":8,"v":10},{"s":"5","t":12,"v":4},{"s":"5","t":16,"v":9},{"s":"5","t":20,"v":2},{"s":"5","t":24,"v":8},{"s":"5","t":28,"v":3},{"s":"5","t":32,"v":10},{"s":"5","t":36,"v":5},{"s":"5","t":40,"v":12},{"s":"5","t":44,"v":6},{"s":"5","t":48,"v":14},{"s":"5","t":52,"v":8},{"s":"5","t":56,"v":16},{"s":"5","t":60,"v":10},{"s":"5","t":64,"v":2},{"s":"5","t":68,"v":-4},{"s":"5","t":72,"v":2},{"s":"5","t":76,"v":-2},{"s":"5","t":80,"v":4},{"s":"5","t":84,"v":0},{"s":"5","t":88,"v":6},{"s":"5","t":92,"v":2},{"s":"5","t":96,"v":8},{"s":"5","t":100,"v":4},{"s":"5","t":104,"v":10},{"s":"5","t":108,"v":6},{"s":"5","t":112,"v":12},{"s":"5","t":116,"v":4},{"s":"5","t":120,"v":8},{"s":"5","t":124,"v":2},{"s":"5","t":128,"v":6},{"s":"5","t":132,"v":0},{"s":"5","t":136,"v":4},{"s":"5","t":140,"v":-2},{"s":"5","t":144,"v":6},{"s":"5","t":148,"v":2},{"s":"5","t":152,"v":8},{"s":"5","t":156,"v":4},{"s":"5","t":160,"v":10},{"s":"5","t":164,"v":6},{"s":"5","t":168,"v":12},{"s":"5","t":172,"v":8},{"s":"5","t":176,"v":14},{"s":"5","t":180,"v":6},{"s":"5","t":184,"v":12},{"s":"5","t":188,"v":8},{"s":"5","t":190,"v":10},
{"s":"6","t":0,"v":-30},{"s":"6","t":1,"v":5},{"s":"6","t":4,"v":10},{"s":"6","t":8,"v":4},{"s":"6","t":12,"v":8},{"s":"6","t":16,"v":2},{"s":"6","t":20,"v":7},{"s":"6","t":24,"v":3},{"s":"6","t":28,"v":9},{"s":"6","t":32,"v":4},{"s":"6","t":36,"v":10},{"s":"6","t":40,"v":14},{"s":"6","t":44,"v":8},{"s":"6","t":48,"v":16},{"s":"6","t":52,"v":10},{"s":"6","t":56,"v":18},{"s":"6","t":60,"v":12},{"s":"6","t":64,"v":-8},{"s":"6","t":68,"v":-14},{"s":"6","t":72,"v":-4},{"s":"6","t":76,"v":-10},{"s":"6","t":80,"v":-2},{"s":"6","t":84,"v":-8},{"s":"6","t":88,"v":0},{"s":"6","t":92,"v":-4},{"s":"6","t":96,"v":4},{"s":"6","t":100,"v":-2},{"s":"6","t":104,"v":6},{"s":"6","t":108,"v":2},{"s":"6","t":112,"v":8},{"s":"6","t":116,"v":4},{"s":"6","t":120,"v":10},{"s":"6","t":124,"v":6},{"s":"6","t":128,"v":12},{"s":"6","t":132,"v":8},{"s":"6","t":136,"v":12},{"s":"6","t":140,"v":6},{"s":"6","t":144,"v":10},{"s":"6","t":148,"v":14},{"s":"6","t":152,"v":8},{"s":"6","t":156,"v":16},{"s":"6","t":160,"v":12},{"s":"6","t":164,"v":18},{"s":"6","t":168,"v":14},{"s":"6","t":172,"v":20},{"s":"6","t":176,"v":16},{"s":"6","t":180,"v":18},{"s":"6","t":184,"v":14},{"s":"6","t":188,"v":16},{"s":"6","t":190,"v":12},
{"s":"7","t":0,"v":-25},{"s":"7","t":1,"v":-2},{"s":"7","t":4,"v":4},{"s":"7","t":8,"v":-4},{"s":"7","t":12,"v":2},{"s":"7","t":16,"v":-6},{"s":"7","t":20,"v":0},{"s":"7","t":24,"v":-5},{"s":"7","t":28,"v":1},{"s":"7","t":32,"v":-4},{"s":"7","t":36,"v":3},{"s":"7","t":40,"v":-2},{"s":"7","t":44,"v":5},{"s":"7","t":48,"v":0},{"s":"7","t":52,"v":6},{"s":"7","t":56,"v":2},{"s":"7","t":60,"v":4},{"s":"7","t":64,"v":-10},{"s":"7","t":68,"v":-6},{"s":"7","t":72,"v":-12},{"s":"7","t":76,"v":-6},{"s":"7","t":80,"v":-10},{"s":"7","t":84,"v":-4},{"s":"7","t":88,"v":-8},{"s":"7","t":92,"v":-2},{"s":"7","t":96,"v":-6},{"s":"7","t":100,"v":0},{"s":"7","t":104,"v":-4},{"s":"7","t":108,"v":2},{"s":"7","t":112,"v":-12},{"s":"7","t":116,"v":-2},{"s":"7","t":120,"v":-8},{"s":"7","t":124,"v":-2},{"s":"7","t":128,"v":-6},{"s":"7","t":132,"v":0},{"s":"7","t":136,"v":-4},{"s":"7","t":140,"v":2},{"s":"7","t":144,"v":-3},{"s":"7","t":148,"v":3},{"s":"7","t":152,"v":-2},{"s":"7","t":156,"v":4},{"s":"7","t":160,"v":-1},{"s":"7","t":164,"v":5},{"s":"7","t":168,"v":0},{"s":"7","t":172,"v":6},{"s":"7","t":176,"v":1},{"s":"7","t":180,"v":4},{"s":"7","t":184,"v":-2},{"s":"7","t":188,"v":2},{"s":"7","t":190,"v":-4},
{"s":"8","t":0,"v":-20},{"s":"8","t":1,"v":14},{"s":"8","t":4,"v":8},{"s":"8","t":8,"v":12},{"s":"8","t":12,"v":6},{"s":"8","t":16,"v":10},{"s":"8","t":20,"v":4},{"s":"8","t":24,"v":9},{"s":"8","t":28,"v":5},{"s":"8","t":32,"v":11},{"s":"8","t":36,"v":7},{"s":"8","t":40,"v":13},{"s":"8","t":44,"v":9},{"s":"8","t":48,"v":15},{"s":"8","t":52,"v":11},{"s":"8","t":56,"v":17},{"s":"8","t":60,"v":14},{"s":"8","t":64,"v":4},{"s":"8","t":68,"v":0},{"s":"8","t":72,"v":6},{"s":"8","t":76,"v":2},{"s":"8","t":80,"v":8},{"s":"8","t":84,"v":4},{"s":"8","t":88,"v":10},{"s":"8","t":92,"v":6},{"s":"8","t":96,"v":12},{"s":"8","t":100,"v":8},{"s":"8","t":104,"v":14},{"s":"8","t":108,"v":10},{"s":"8","t":112,"v":16},{"s":"8","t":116,"v":12},{"s":"8","t":120,"v":8},{"s":"8","t":124,"v":12},{"s":"8","t":128,"v":6},{"s":"8","t":132,"v":10},{"s":"8","t":136,"v":8},{"s":"8","t":140,"v":12},{"s":"8","t":144,"v":6},{"s":"8","t":148,"v":10},{"s":"8","t":152,"v":14},{"s":"8","t":156,"v":10},{"s":"8","t":160,"v":16},{"s":"8","t":164,"v":12},{"s":"8","t":168,"v":18},{"s":"8","t":172,"v":14},{"s":"8","t":176,"v":20},{"s":"8","t":180,"v":16},{"s":"8","t":184,"v":18},{"s":"8","t":188,"v":12},{"s":"8","t":190,"v":16},
{"s":"9","t":0,"v":-35},{"s":"9","t":1,"v":-6},{"s":"9","t":4,"v":-12},{"s":"9","t":8,"v":-4},{"s":"9","t":12,"v":-10},{"s":"9","t":16,"v":-2},{"s":"9","t":20,"v":-8},{"s":"9","t":24,"v":-3},{"s":"9","t":28,"v":-9},{"s":"9","t":32,"v":-2},{"s":"9","t":36,"v":-7},{"s":"9","t":40,"v":0},{"s":"9","t":44,"v":-6},{"s":"9","t":48,"v":2},{"s":"9","t":52,"v":-4},{"s":"9","t":56,"v":4},{"s":"9","t":60,"v":-2},{"s":"9","t":64,"v":-20},{"s":"9","t":68,"v":-14},{"s":"9","t":72,"v":-22},{"s":"9","t":76,"v":-12},{"s":"9","t":80,"v":-16},{"s":"9","t":84,"v":-8},{"s":"9","t":88,"v":-12},{"s":"9","t":92,"v":-6},{"s":"9","t":96,"v":-10},{"s":"9","t":100,"v":-4},{"s":"9","t":104,"v":-8},{"s":"9","t":108,"v":-14},{"s":"9","t":112,"v":-20},{"s":"9","t":116,"v":-10},{"s":"9","t":120,"v":-14},{"s":"9","t":124,"v":-8},{"s":"9","t":128,"v":-12},{"s":"9","t":132,"v":-6},{"s":"9","t":136,"v":-10},{"s":"9","t":140,"v":-4},{"s":"9","t":144,"v":-8},{"s":"9","t":148,"v":-2},{"s":"9","t":152,"v":-6},{"s":"9","t":156,"v":-12},{"s":"9","t":160,"v":-4},{"s":"9","t":164,"v":-8},{"s":"9","t":168,"v":-2},{"s":"9","t":172,"v":-10},{"s":"9","t":176,"v":-4},{"s":"9","t":180,"v":-8},{"s":"9","t":184,"v":-2},{"s":"9","t":188,"v":-12},{"s":"9","t":190,"v":-6},
{"s":"10","t":0,"v":-28},{"s":"10","t":1,"v":4},{"s":"10","t":4,"v":-2},{"s":"10","t":8,"v":6},{"s":"10","t":12,"v":0},{"s":"10","t":16,"v":5},{"s":"10","t":20,"v":-3},{"s":"10","t":24,"v":4},{"s":"10","t":28,"v":-1},{"s":"10","t":32,"v":6},{"s":"10","t":36,"v":2},{"s":"10","t":40,"v":8},{"s":"10","t":44,"v":4},{"s":"10","t":48,"v":10},{"s":"10","t":52,"v":6},{"s":"10","t":56,"v":12},{"s":"10","t":60,"v":8},{"s":"10","t":64,"v":-4},{"s":"10","t":68,"v":-10},{"s":"10","t":72,"v":-2},{"s":"10","t":76,"v":-8},{"s":"10","t":80,"v":0},{"s":"10","t":84,"v":-6},{"s":"10","t":88,"v":2},{"s":"10","t":92,"v":-4},{"s":"10","t":96,"v":4},{"s":"10","t":100,"v":-2},{"s":"10","t":104,"v":6},{"s":"10","t":108,"v":0},{"s":"10","t":112,"v":-6},{"s":"10","t":116,"v":2},{"s":"10","t":120,"v":-4},{"s":"10","t":124,"v":2},{"s":"10","t":128,"v":-4},{"s":"10","t":132,"v":4},{"s":"10","t":136,"v":-2},{"s":"10","t":140,"v":6},{"s":"10","t":144,"v":0},{"s":"10","t":148,"v":8},{"s":"10","t":152,"v":2},{"s":"10","t":156,"v":6},{"s":"10","t":160,"v":-2},{"s":"10","t":164,"v":4},{"s":"10","t":168,"v":-6},{"s":"10","t":172,"v":2},{"s":"10","t":176,"v":-4},{"s":"10","t":180,"v":4},{"s":"10","t":184,"v":-2},{"s":"10","t":188,"v":6},{"s":"10","t":190,"v":0},
{"s":"5","t":2,"v":12},{"s":"5","t":6,"v":0},{"s":"5","t":10,"v":14},{"s":"5","t":14,"v":2},{"s":"5","t":18,"v":12},{"s":"5","t":22,"v":0},{"s":"5","t":26,"v":11},{"s":"5","t":30,"v":2},{"s":"5","t":34,"v":13},{"s":"5","t":38,"v":4},{"s":"5","t":42,"v":16},{"s":"5","t":46,"v":8},{"s":"5","t":50,"v":18},{"s":"5","t":54,"v":10},{"s":"5","t":58,"v":20},{"s":"5","t":62,"v":4},{"s":"5","t":66,"v":-6},{"s":"5","t":70,"v":0},{"s":"5","t":74,"v":-6},{"s":"5","t":78,"v":2},{"s":"5","t":82,"v":-4},{"s":"5","t":86,"v":4},{"s":"5","t":90,"v":-2},{"s":"5","t":94,"v":6},{"s":"5","t":98,"v":0},{"s":"5","t":102,"v":8},{"s":"5","t":106,"v":2},{"s":"5","t":110,"v":10},{"s":"5","t":114,"v":6},{"s":"5","t":118,"v":10},{"s":"5","t":122,"v":0},{"s":"5","t":126,"v":8},{"s":"5","t":130,"v":-2},{"s":"5","t":134,"v":6},{"s":"5","t":138,"v":-4},{"s":"5","t":142,"v":4},{"s":"5","t":146,"v":0},{"s":"5","t":150,"v":10},{"s":"5","t":154,"v":2},{"s":"5","t":158,"v":12},{"s":"5","t":162,"v":4},{"s":"5","t":166,"v":14},{"s":"5","t":170,"v":6},{"s":"5","t":174,"v":16},{"s":"5","t":178,"v":8},{"s":"5","t":182,"v":14},{"s":"5","t":186,"v":6},
{"s":"6","t":2,"v":12},{"s":"6","t":6,"v":2},{"s":"6","t":10,"v":10},{"s":"6","t":14,"v":4},{"s":"6","t":18,"v":10},{"s":"6","t":22,"v":2},{"s":"6","t":26,"v":10},{"s":"6","t":30,"v":2},{"s":"6","t":34,"v":12},{"s":"6","t":38,"v":6},{"s":"6","t":42,"v":16},{"s":"6","t":46,"v":10},{"s":"6","t":50,"v":18},{"s":"6","t":54,"v":12},{"s":"6","t":58,"v":20},{"s":"6","t":62,"v":2},{"s":"6","t":66,"v":-18},{"s":"6","t":70,"v":-8},{"s":"6","t":74,"v":-14},{"s":"6","t":78,"v":-4},{"s":"6","t":82,"v":-10},{"s":"6","t":86,"v":-2},{"s":"6","t":90,"v":-8},{"s":"6","t":94,"v":2},{"s":"6","t":98,"v":-4},{"s":"6","t":102,"v":8},{"s":"6","t":106,"v":0},{"s":"6","t":110,"v":10},{"s":"6","t":114,"v":2},{"s":"6","t":118,"v":12},{"s":"6","t":122,"v":4},{"s":"6","t":126,"v":14},{"s":"6","t":130,"v":6},{"s":"6","t":134,"v":14},{"s":"6","t":138,"v":8},{"s":"6","t":142,"v":12},{"s":"6","t":146,"v":16},{"s":"6","t":150,"v":10},{"s":"6","t":154,"v":18},{"s":"6","t":158,"v":10},{"s":"6","t":162,"v":20},{"s":"6","t":166,"v":12},{"s":"6","t":170,"v":22},{"s":"6","t":174,"v":14},{"s":"6","t":178,"v":20},{"s":"6","t":182,"v":16},{"s":"6","t":186,"v":18},
{"s":"7","t":2,"v":6},{"s":"7","t":6,"v":-2},{"s":"7","t":10,"v":6},{"s":"7","t":14,"v":-4},{"s":"7","t":18,"v":4},{"s":"7","t":22,"v":-8},{"s":"7","t":26,"v":4},{"s":"7","t":30,"v":-6},{"s":"7","t":34,"v":4},{"s":"7","t":38,"v":-4},{"s":"7","t":42,"v":7},{"s":"7","t":46,"v":2},{"s":"7","t":50,"v":8},{"s":"7","t":54,"v":0},{"s":"7","t":58,"v":6},{"s":"7","t":62,"v":-6},{"s":"7","t":66,"v":-14},{"s":"7","t":70,"v":-8},{"s":"7","t":74,"v":-14},{"s":"7","t":78,"v":-8},{"s":"7","t":82,"v":-12},{"s":"7","t":86,"v":-6},{"s":"7","t":90,"v":-10},{"s":"7","t":94,"v":-4},{"s":"7","t":98,"v":-8},{"s":"7","t":102,"v":2},{"s":"7","t":106,"v":-6},{"s":"7","t":110,"v":-10},{"s":"7","t":114,"v":-8},{"s":"7","t":118,"v":-4},{"s":"7","t":122,"v":-10},{"s":"7","t":126,"v":0},{"s":"7","t":130,"v":-8},{"s":"7","t":134,"v":2},{"s":"7","t":138,"v":-6},{"s":"7","t":142,"v":4},{"s":"7","t":146,"v":-4},{"s":"7","t":150,"v":4},{"s":"7","t":154,"v":0},{"s":"7","t":158,"v":6},{"s":"7","t":162,"v":0},{"s":"7","t":166,"v":6},{"s":"7","t":170,"v":-2},{"s":"7","t":174,"v":8},{"s":"7","t":178,"v":2},{"s":"7","t":182,"v":6},{"s":"7","t":186,"v":0},
{"s":"8","t":2,"v":10},{"s":"8","t":6,"v":14},{"s":"8","t":10,"v":8},{"s":"8","t":14,"v":12},{"s":"8","t":18,"v":6},{"s":"8","t":22,"v":12},{"s":"8","t":26,"v":7},{"s":"8","t":30,"v":13},{"s":"8","t":34,"v":8},{"s":"8","t":38,"v":14},{"s":"8","t":42,"v":10},{"s":"8","t":46,"v":17},{"s":"8","t":50,"v":12},{"s":"8","t":54,"v":18},{"s":"8","t":58,"v":13},{"s":"8","t":62,"v":8},{"s":"8","t":66,"v":2},{"s":"8","t":70,"v":8},{"s":"8","t":74,"v":4},{"s":"8","t":78,"v":10},{"s":"8","t":82,"v":6},{"s":"8","t":86,"v":12},{"s":"8","t":90,"v":8},{"s":"8","t":94,"v":14},{"s":"8","t":98,"v":10},{"s":"8","t":102,"v":16},{"s":"8","t":106,"v":12},{"s":"8","t":110,"v":18},{"s":"8","t":114,"v":14},{"s":"8","t":118,"v":10},{"s":"8","t":122,"v":14},{"s":"8","t":126,"v":8},{"s":"8","t":130,"v":12},{"s":"8","t":134,"v":10},{"s":"8","t":138,"v":14},{"s":"8","t":142,"v":8},{"s":"8","t":146,"v":12},{"s":"8","t":150,"v":16},{"s":"8","t":154,"v":12},{"s":"8","t":158,"v":18},{"s":"8","t":162,"v":14},{"s":"8","t":166,"v":20},{"s":"8","t":170,"v":16},{"s":"8","t":174,"v":22},{"s":"8","t":178,"v":18},{"s":"8","t":182,"v":20},{"s":"8","t":186,"v":14},
{"s":"9","t":2,"v":-10},{"s":"9","t":6,"v":-2},{"s":"9","t":10,"v":-14},{"s":"9","t":14,"v":-5},{"s":"9","t":18,"v":-11},{"s":"9","t":22,"v":-1},{"s":"9","t":26,"v":-10},{"s":"9","t":30,"v":-5},{"s":"9","t":34,"v":-9},{"s":"9","t":38,"v":-1},{"s":"9","t":42,"v":-8},{"s":"9","t":46,"v":1},{"s":"9","t":50,"v":-6},{"s":"9","t":54,"v":2},{"s":"9","t":58,"v":-3},{"s":"9","t":62,"v":-12},{"s":"9","t":66,"v":-22},{"s":"9","t":70,"v":-16},{"s":"9","t":74,"v":-18},{"s":"9","t":78,"v":-10},{"s":"9","t":82,"v":-14},{"s":"9","t":86,"v":-6},{"s":"9","t":90,"v":-14},{"s":"9","t":94,"v":-4},{"s":"9","t":98,"v":-12},{"s":"9","t":102,"v":-6},{"s":"9","t":106,"v":-12},{"s":"9","t":110,"v":-18},{"s":"9","t":114,"v":-14},{"s":"9","t":118,"v":-12},{"s":"9","t":122,"v":-6},{"s":"9","t":126,"v":-14},{"s":"9","t":130,"v":-8},{"s":"9","t":134,"v":-12},{"s":"9","t":138,"v":-6},{"s":"9","t":142,"v":-10},{"s":"9","t":146,"v":-4},{"s":"9","t":150,"v":-10},{"s":"9","t":154,"v":-8},{"s":"9","t":158,"v":-6},{"s":"9","t":162,"v":-10},{"s":"9","t":166,"v":-4},{"s":"9","t":170,"v":-6},{"s":"9","t":174,"v":-12},{"s":"9","t":178,"v":-6},{"s":"9","t":182,"v":-10},{"s":"9","t":186,"v":-6},
{"s":"10","t":2,"v":0},{"s":"10","t":6,"v":8},{"s":"10","t":10,"v":-2},{"s":"10","t":14,"v":7},{"s":"10","t":18,"v":0},{"s":"10","t":22,"v":6},{"s":"10","t":26,"v":1},{"s":"10","t":30,"v":8},{"s":"10","t":34,"v":0},{"s":"10","t":38,"v":9},{"s":"10","t":42,"v":2},{"s":"10","t":46,"v":12},{"s":"10","t":50,"v":4},{"s":"10","t":54,"v":14},{"s":"10","t":58,"v":6},{"s":"10","t":62,"v":2},{"s":"10","t":66,"v":-8},{"s":"10","t":70,"v":-6},{"s":"10","t":74,"v":0},{"s":"10","t":78,"v":-4},{"s":"10","t":82,"v":-8},{"s":"10","t":86,"v":4},{"s":"10","t":90,"v":-6},{"s":"10","t":94,"v":6},{"s":"10","t":98,"v":-4},{"s":"10","t":102,"v":8},{"s":"10","t":106,"v":-2},{"s":"10","t":110,"v":4},{"s":"10","t":114,"v":-8},{"s":"10","t":118,"v":0},{"s":"10","t":122,"v":-2},{"s":"10","t":126,"v":-6},{"s":"10","t":130,"v":6},{"s":"10","t":134,"v":0},{"s":"10","t":138,"v":4},{"s":"10","t":142,"v":-2},{"s":"10","t":146,"v":8},{"s":"10","t":150,"v":4},{"s":"10","t":154,"v":8},{"s":"10","t":158,"v":0},{"s":"10","t":162,"v":6},{"s":"10","t":166,"v":-4},{"s":"10","t":170,"v":4},{"s":"10","t":174,"v":-6},{"s":"10","t":178,"v":2},{"s":"10","t":182,"v":6},{"s":"10","t":186,"v":0}
],
"dm": [
{"t":0,"v":-38},{"t":0.5,"v":0},{"t":1,"v":2},{"t":2,"v":-1},{"t":4,"v":3},{"t":6,"v":0},{"t":8,"v":2},{"t":10,"v":-1},{"t":12,"v":3},{"t":14,"v":0},{"t":16,"v":1},{"t":18,"v":-1},{"t":20,"v":2},{"t":22,"v":0},{"t":24,"v":3},{"t":26,"v":1},{"t":28,"v":2},{"t":30,"v":4},{"t":32,"v":2},{"t":34,"v":5},{"t":36,"v":6},{"t":38,"v":5},{"t":40,"v":9},{"t":42,"v":8},{"t":44,"v":11},{"t":46,"v":10},{"t":48,"v":13},{"t":50,"v":14},{"t":52,"v":16},{"t":54,"v":15},{"t":56,"v":17},{"t":58,"v":16},{"t":59.5,"v":18},{"t":60,"v":14},{"t":61,"v":6},{"t":62,"v":3},{"t":64,"v":1},{"t":66,"v":-2},{"t":68,"v":-3},{"t":70,"v":-1},{"t":72,"v":-4},{"t":74,"v":-2},{"t":76,"v":-1},{"t":78,"v":-3},{"t":80,"v":0},{"t":82,"v":-2},{"t":84,"v":1},{"t":86,"v":-1},{"t":88,"v":2},{"t":90,"v":0},{"t":92,"v":3},{"t":94,"v":2},{"t":96,"v":5},{"t":98,"v":4},{"t":100,"v":7},{"t":102,"v":5},{"t":104,"v":8},{"t":106,"v":6},{"t":108,"v":10},{"t":110,"v":7},{"t":112,"v":9},{"t":114,"v":6},{"t":116,"v":8},{"t":118,"v":5},{"t":120,"v":3},{"t":122,"v":2},{"t":124,"v":4},{"t":126,"v":1},{"t":128,"v":3},{"t":130,"v":0},{"t":132,"v":2},{"t":134,"v":1},{"t":136,"v":3},{"t":138,"v":0},{"t":140,"v":2},{"t":142,"v":1},{"t":144,"v":3},{"t":146,"v":2},{"t":148,"v":4},{"t":150,"v":3},{"t":152,"v":6},{"t":154,"v":5},{"t":156,"v":8},{"t":158,"v":7},{"t":160,"v":9},{"t":162,"v":8},{"t":164,"v":10},{"t":166,"v":7},{"t":168,"v":9},{"t":170,"v":8},{"t":172,"v":11},{"t":174,"v":8},{"t":176,"v":10},{"t":178,"v":9},{"t":180,"v":11},{"t":182,"v":8},{"t":184,"v":10},{"t":186,"v":9},{"t":188,"v":13},{"t":190,"v":10}
]
},
"vconcat": [
{
  "width": 773,
  "height": 553,
  "layer": [
    {"data": {"name": "c"},
     "mark": {"type": "line", "strokeWidth": 5, "strokeCap": "round", "strokeJoin": "round"},
     "encoding": {
       "x": {"field": "t", "type": "quantitative", "title": "Zeit (s)", "scale": {"domain": [0, 190], "nice": false, "zero": false},
             "axis": {"values": [0, 30, 60, 90, 120, 150, 180], "tickSize": 5, "labelPadding": 10, "titlePadding": 28}},
       "y": {"field": "v", "type": "quantitative", "title": "Δ[Ca²⁺] (nM)", "scale": {"domain": [-50, 150], "nice": false, "zero": false},
             "axis": {"values": [-50, 0, 50, 100, 150], "tickSize": 6, "labelPadding": 20, "titlePadding": 22}},
       "color": {"field": "s", "type": "nominal",
         "scale": {"domain": ["1", "2", "3", "4", "5", "6", "7", "Mittelwert"], "range": ["#595959", "#a0a0a0", "#7f7f7f", "#404040", "#868686", "#bfbfbf", "#a3a3a3", "#c00000"]},
         "legend": {"orient": "none", "legendX": 874, "legendY": 280, "symbolSize": 176, "labelOffset": 20, "rowPadding": 2.7,
                    "encode": {"symbols": {"update": {"strokeCap": {"value": "round"}}}}}}}},
    {"data": {"name": "cm"},
     "mark": {"type": "line", "strokeWidth": 6, "strokeCap": "round", "strokeJoin": "round"},
     "encoding": {
       "x": {"field": "t", "type": "quantitative", "title": "Zeit (s)"},
       "y": {"field": "v", "type": "quantitative", "title": "Δ[Ca²⁺] (nM)"},
       "color": {"datum": "Mittelwert", "type": "nominal"}}},
    {"data": {"name": "forsk"},
     "mark": {"type": "rule", "strokeWidth": 8, "color": "#953735", "strokeCap": "butt"},
     "encoding": {
       "x": {"field": "a", "type": "quantitative", "title": "Zeit (s)"},
       "x2": {"field": "b"},
       "y": {"datum": -48.8, "type": "quantitative", "title": "Δ[Ca²⁺] (nM)"}}},
    {"data": {"name": "forsk"},
     "mark": {"type": "text", "font": "Liberation Sans", "fontSize": 21, "color": "#c0504d", "baseline": "middle", "align": "center"},
     "encoding": {
       "x": {"field": "m", "type": "quantitative", "title": "Zeit (s)"},
       "y": {"datum": -42.7, "type": "quantitative", "title": "Δ[Ca²⁺] (nM)"},
       "text": {"field": "lab"}}},
    {"data": {"values": [{"lab": "Messkurven der nicht-transgenen MN"}]},
     "mark": {"type": "text", "font": "Liberation Sans", "fontSize": 32, "fontWeight": "bold", "align": "center", "baseline": "middle", "color": "#000000"},
     "encoding": {
       "x": {"datum": 117.8, "type": "quantitative", "title": "Zeit (s)"},
       "y": {"datum": 161, "type": "quantitative", "title": "Δ[Ca²⁺] (nM)"},
       "text": {"field": "lab"}}},
    {"data": {"values": [{"lab": "C."}]},
     "mark": {"type": "text", "font": "Liberation Sans", "fontSize": 26, "fontWeight": "bold", "align": "left", "baseline": "middle", "color": "#000000"},
     "encoding": {
       "x": {"datum": -25.8, "type": "quantitative", "title": "Zeit (s)"},
       "y": {"datum": 165, "type": "quantitative", "title": "Δ[Ca²⁺] (nM)"},
       "text": {"field": "lab"}}}
  ]
},
{
  "width": 835,
  "height": 392,
  "layer": [
    {"data": {"name": "d"},
     "mark": {"type": "line", "strokeWidth": 5, "strokeCap": "round", "strokeJoin": "round"},
     "encoding": {
       "x": {"field": "t", "type": "quantitative", "title": "Zeit (s)", "scale": {"domain": [-7.32, 190], "nice": false, "zero": false},
             "axis": {"values": [0, 30, 60, 90, 120, 150, 180], "tickSize": 5, "labelPadding": 12, "titlePadding": 14, "domain": false, "titleX": 434}},
       "y": {"field": "v", "type": "quantitative", "title": "Δ[Ca²⁺] (nM)", "scale": {"domain": [-50, 150], "nice": false, "zero": false},
             "axis": {"values": [-50, 0, 50, 100, 150], "tickSize": 6, "labelPadding": 26, "titlePadding": 47, "offset": -31}},
       "color": {"field": "s", "type": "nominal",
         "scale": {"domain": ["1", "2", "3", "4", "5", "6", "7", "8", "9", "10", "Mittelwert"], "range": ["#595959", "#a0a0a0", "#7f7f7f", "#404040", "#868686", "#bfbfbf", "#9a9a9a", "#c8c8c8", "#afafaf", "#969696", "#c00000"]},
         "legend": {"orient": "none", "legendX": 903, "legendY": 104, "symbolSize": 196, "labelOffset": 20, "rowPadding": 8.9,
                    "encode": {"symbols": {"update": {"strokeCap": {"value": "round"}}}}}}}},
    {"data": {"name": "dm"},
     "mark": {"type": "line", "strokeWidth": 6, "strokeCap": "round", "strokeJoin": "round"},
     "encoding": {
       "x": {"field": "t", "type": "quantitative", "title": "Zeit (s)"},
       "y": {"field": "v", "type": "quantitative", "title": "Δ[Ca²⁺] (nM)"},
       "color": {"datum": "Mittelwert", "type": "nominal"}}},
    {"data": {"values": [{}]},
     "mark": {"type": "rule", "strokeWidth": 2, "color": "#898989"},
     "encoding": {
       "x": {"datum": 0, "type": "quantitative", "title": "Zeit (s)"},
       "x2": {"datum": 190},
       "y": {"datum": -50, "type": "quantitative", "title": "Δ[Ca²⁺] (nM)"}}},
    {"data": {"name": "forsk"},
     "mark": {"type": "rule", "strokeWidth": 8, "color": "#953735", "strokeCap": "butt"},
     "encoding": {
       "x": {"field": "a", "type": "quantitative", "title": "Zeit (s)"},
       "x2": {"field": "b"},
       "y": {"datum": -48.5, "type": "quantitative", "title": "Δ[Ca²⁺] (nM)"}}},
    {"data": {"name": "forsk"},
     "mark": {"type": "text", "font": "Liberation Sans", "fontSize": 21, "color": "#c0504d", "baseline": "middle", "align": "center"},
     "encoding": {
       "x": {"field": "m", "type": "quantitative", "title": "Zeit (s)"},
       "y": {"datum": -39.8, "type": "quantitative", "title": "Δ[Ca²⁺] (nM)"},
       "text": {"field": "lab"}}},
    {"data": {"values": [{"lab": "Messkurven der hSOD1G93A MN"}]},
     "mark": {"type": "text", "font": "Liberation Sans", "fontSize": 32, "fontWeight": "bold", "align": "center", "baseline": "middle", "color": "#000000"},
     "encoding": {
       "x": {"datum": 106, "type": "quantitative", "title": "Zeit (s)"},
       "y": {"datum": 162.8, "type": "quantitative", "title": "Δ[Ca²⁺] (nM)"},
       "text": {"field": "lab"}}},
    {"data": {"values": [{"lab": "D."}]},
     "mark": {"type": "text", "font": "Liberation Sans", "fontSize": 26, "fontWeight": "bold", "align": "left", "baseline": "middle", "color": "#000000"},
     "encoding": {
       "x": {"datum": -32.1, "type": "quantitative", "title": "Zeit (s)"},
       "y": {"datum": 168.4, "type": "quantitative", "title": "Δ[Ca²⁺] (nM)"},
       "text": {"field": "lab"}}}
  ]
}
]
}
